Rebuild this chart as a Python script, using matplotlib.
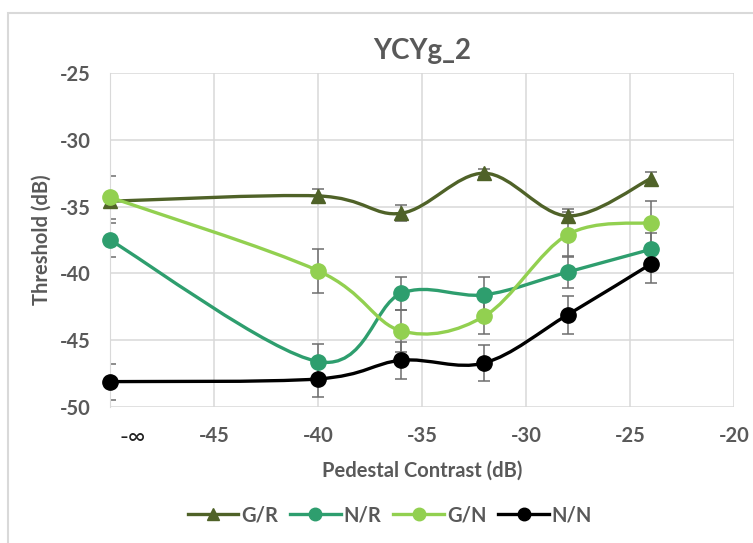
import numpy as np
import matplotlib
matplotlib.use('Agg')
import matplotlib.pyplot as plt
from matplotlib.path import Path
from matplotlib.patches import PathPatch, Rectangle
from matplotlib.lines import Line2D

plt.rcParams['font.family'] = ['Lato', 'DejaVu Sans']
plt.rcParams['axes.unicode_minus'] = False

# pedestal contrast (dB); -50 stands for -inf
contrast = [-50, -40, -36, -32, -28, -24]

gr = [-34.6, -34.2, -35.5, -32.5, -35.7, -32.9]
gr_err = [0.3, 0.5, 0.6, 0.3, 0.5, 0.5]
nr = [-37.5, -46.6, -41.5, -41.6, -39.9, -38.2]
nr_err = [1.3, 1.35, 1.25, 1.3, 1.2, 1.2]
gn = [-34.3, -39.8, -44.3, -43.2, -37.1, -36.2]
gn_err = [1.6, 1.65, 1.55, 1.3, 1.7, 1.65]
nn = [-48.1, -47.9, -46.5, -46.7, -43.1, -39.3]
nn_err = [1.35, 1.35, 1.4, 1.35, 1.4, 1.4]

series = [
    ('G/R', gr, gr_err, '#4F6228', '^'),
    ('N/R', nr, nr_err, '#2E9E6E', 'o'),
    ('G/N', gn, gn_err, '#92D050', 'o'),
    ('N/N', nn, nn_err, '#000000', 'o'),
]
xticks = [-45, -40, -35, -30, -25, -20]
yticks = [-50, -45, -40, -35, -30, -25]

grey = '#595959'


def smooth_path(x, y):
    """Excel-like smoothed line: cubic bezier through each point"""
    n = len(x)
    verts = [(x[0], y[0])]
    codes = [Path.MOVETO]
    for i in range(n - 1):
        a = i - 1 if i > 0 else i
        b = i + 2 if i + 2 < n else i + 1
        c1 = (x[i] + (x[i + 1] - x[a]) / 6, y[i] + (y[i + 1] - y[a]) / 6)
        c2 = (x[i + 1] - (x[b] - x[i]) / 6, y[i + 1] - (y[b] - y[i]) / 6)
        verts += [c1, c2, (x[i + 1], y[i + 1])]
        codes += [Path.CURVE4] * 3
    return Path(verts, codes)


fig = plt.figure(figsize=(7.53, 5.43), dpi=100)
fig.patches.append(Rectangle((8 / 753, -0.1), 1.1, 1 - 13 / 543 + 0.1,
                             transform=fig.transFigure, fill=False,
                             edgecolor='#D9D9D9', lw=1.5))
ax = fig.add_axes([110 / 753, 1 - 407 / 543, 624 / 753, 334 / 543])

handles = []
for name, vals, err, col, mk in series:
    ax.errorbar(contrast, vals, yerr=err, fmt='none', ecolor='#6E6E6E',
                elinewidth=1.1, capsize=4.3, capthick=1.1, zorder=2)
    ax.add_patch(PathPatch(smooth_path(contrast, vals), fill=False,
                           edgecolor=col, lw=2.4, zorder=3, capstyle='round'))
    ax.plot(contrast, vals, ls='none', marker=mk, ms=11 if mk == 'o' else 10.5,
            color=col, zorder=4, clip_on=False)
    handles.append(Line2D([], [], color=col, lw=2.4, marker=mk, ms=9))

ax.set_xlim(-50, -20)
ax.set_ylim(-50, -25)
ax.set_xticks(xticks)
ax.set_yticks(yticks)
ax.grid(True, color='#D9D9D9', lw=1.1)
ax.set_axisbelow(True)
for s in ax.spines.values():
    s.set_visible(False)
ax.spines['left'].set_visible(True)
ax.spines['left'].set_color('#D9D9D9')
ax.tick_params(length=0, labelsize=14.5, labelcolor=grey, pad=14)
for lab in ax.get_xticklabels() + ax.get_yticklabels():
    lab.set_fontweight('bold')
ax.text(-48.9, -52.3, '-\u221e', fontsize=17, color='#222222',
        ha='center', va='center')

ax.set_xlabel('Pedestal Contrast (dB)', fontsize=14.5, fontweight='bold',
              color=grey, labelpad=10)
ax.set_ylabel('Threshold (dB)', fontsize=14.5, fontweight='bold',
              color=grey, labelpad=6)
ax.set_title('YCYg_2', fontsize=20, fontweight='bold', color=grey, pad=10)

fig.legend(handles, [s[0] for s in series], loc='center',
           bbox_to_anchor=(390 / 753, 1 - 515 / 543), ncol=4, frameon=False,
           prop={'size': 14.5, 'weight': 'bold'}, labelcolor=grey,
           handlelength=2.5, handletextpad=0.15, columnspacing=0.6)

fig.savefig('out.png', dpi=100)
